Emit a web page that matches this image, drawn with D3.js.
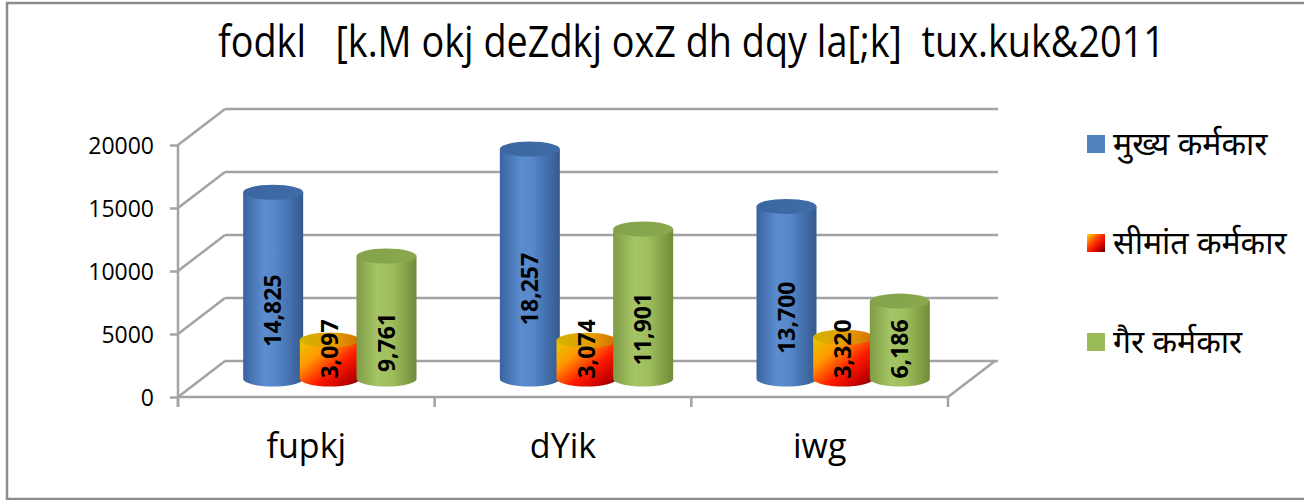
<!DOCTYPE html>
<html>
<head>
<meta charset="utf-8">
<script src="https://cdn.jsdelivr.net/npm/d3@7"></script>
<style>
  body { margin: 0; background: #fff; }
  svg { display: block; }
</style>
</head>
<body>
<div id="chart"></div>
<script>
var width = 1304;
var height = 500;

// data
var title = "fodkl   [k.M okj deZdkj oxZ dh dqy la[;k]  tux.kuk&2011";
var categories = ["fupkj", "dYik", "iwg"];
var seriesNames = ["मुख्य कर्मकार", "सीमांत कर्मकार", "गैर कर्मकार"];
var mukhya = [14825, 18257, 13700];
var seemant = [3097, 3074, 3320];
var gair = [9761, 11901, 6186];
var yTicks = [0, 5000, 10000, 15000, 20000];

// 3d frame
var front = { left: 178, right: 948, bottom: 397, top: 145 };
var depthX = 47, depthY = -36;
var gridColor = "#a3a3a3";

var svg = d3.select("#chart")
  .append("svg")
  .attr("width", width)
  .attr("height", height);

var defs = svg.append("defs");

// body gradients
function hGrad(id, stops) {
  var g = defs.append("linearGradient").attr("id", id)
    .attr("x1", 0).attr("y1", 0).attr("x2", 1).attr("y2", 0);
  stops.forEach(function (s) {
    g.append("stop").attr("offset", s[0]).attr("stop-color", s[1]);
  });
}
hGrad("blueBody", [[0, "#3a64a0"], [0.35, "#5b8dd0"], [0.55, "#5587c9"], [1, "#34598f"]]);
hGrad("blueTop", [[0, "#3b66a0"], [1, "#3f6ca8"]]);
hGrad("greenBody", [[0, "#7e9c45"], [0.35, "#a6c566"], [0.6, "#9ebd5c"], [1, "#718c39"]]);
hGrad("greenTop", [[0, "#84a24a"], [1, "#8aa94e"]]);
hGrad("orangeTop", [[0, "#d2b400"], [0.6, "#e69a00"], [1, "#d27000"]]);

var og = defs.append("linearGradient").attr("id", "orangeBody")
  .attr("x1", 0).attr("y1", 0).attr("x2", 1).attr("y2", 1);
[[0, "#e8c800"], [0.3, "#ff9a00"], [0.6, "#ff1a00"], [0.85, "#c00000"], [1, "#6e0000"]].forEach(function (s) {
  og.append("stop").attr("offset", s[0]).attr("stop-color", s[1]);
});

// outer border
svg.append("path")
  .attr("d", "M1304,3 L7,3 L7,499 L1304,499")
  .attr("fill", "none")
  .attr("stroke", "#8c8c8c")
  .attr("stroke-width", 2.5);

// title, squeezed horizontally to the reference width
var titleText = svg.append("text")
  .attr("x", 0)
  .attr("y", 0)
  .style("white-space", "pre")
  .style("font-family", "'Open Sans', sans-serif")
  .style("font-size", "44px")
  .style("fill", "#000")
  .text(title);
var titleLen = titleText.node().getComputedTextLength();
titleText.attr("transform", "translate(218,57) scale(" + (947 / titleLen) + ",1)");

// scales
var y = d3.scaleLinear().domain([0, 20000]).range([front.bottom, front.top]);
var x = d3.scaleBand().domain(categories).range([front.left, front.right]);
var xInner = d3.scaleBand().domain(seriesNames).range([-85, 85]).padding(0);

var grid = svg.append("g");

// back wall + side wall gridlines
yTicks.forEach(function (t) {
  var yy = y(t);
  grid.append("line")
    .attr("x1", front.left + depthX).attr("y1", yy + depthY)
    .attr("x2", front.right + depthX + 3).attr("y2", yy + depthY)
    .attr("stroke", gridColor).attr("stroke-width", 2.5);
  grid.append("line")
    .attr("x1", front.left).attr("y1", yy)
    .attr("x2", front.left + depthX).attr("y2", yy + depthY)
    .attr("stroke", gridColor).attr("stroke-width", 2.5);
});

// floor front + right edge
grid.append("line")
  .attr("x1", front.left).attr("y1", front.bottom)
  .attr("x2", front.right).attr("y2", front.bottom)
  .attr("stroke", gridColor).attr("stroke-width", 2.5);
grid.append("line")
  .attr("x1", front.right).attr("y1", front.bottom)
  .attr("x2", front.right + depthX).attr("y2", front.bottom + depthY)
  .attr("stroke", gridColor).attr("stroke-width", 2.5);

// y axis
var axisY = d3.axisLeft(y).tickValues(yTicks).tickSize(8).tickPadding(16).tickFormat(d3.format("d"));
var gy = svg.append("g")
  .attr("transform", "translate(" + front.left + ",0)")
  .call(axisY);
gy.select(".domain").remove();
gy.append("line")
  .attr("x1", 0).attr("x2", 0)
  .attr("y1", front.top).attr("y2", front.bottom + 10)
  .attr("stroke", gridColor).attr("stroke-width", 2.5);
gy.selectAll(".tick line").attr("stroke", gridColor).attr("stroke-width", 2.5);
gy.selectAll(".tick text")
  .style("font-family", "'Open Sans', sans-serif")
  .style("font-size", "23px")
  .attr("fill", "#000")
  .attr("dy", "0.36em");

// x axis
var ticksX = categories.map(function (c) { return x(c); }).concat([front.right]);
svg.append("g").selectAll("line")
  .data(ticksX)
  .enter()
  .append("line")
  .attr("x1", function (d) { return d; }).attr("x2", function (d) { return d; })
  .attr("y1", front.bottom).attr("y2", front.bottom + 10)
  .attr("stroke", gridColor).attr("stroke-width", 2.5);

svg.append("g").selectAll("text")
  .data(categories)
  .enter()
  .append("text")
  .attr("x", function (d) { return x(d) + x.bandwidth() / 2; })
  .attr("y", 458)
  .attr("text-anchor", "middle")
  .style("font-family", "'Open Sans', sans-serif")
  .style("font-size", "34px")
  .style("fill", "#000")
  .text(function (d) { return d; });

// cylinders
var series = [
  { name: seriesNames[0], values: mukhya, body: "url(#blueBody)", top: "url(#blueTop)" },
  { name: seriesNames[1], values: seemant, body: "url(#orangeBody)", top: "url(#orangeTop)" },
  { name: seriesNames[2], values: gair, body: "url(#greenBody)", top: "url(#greenTop)" }
];

var rx = 30, ry = 7.5;
var baseY = front.bottom + depthY / 2;
var bars = [];
series.forEach(function (s) {
  s.values.forEach(function (v, i) {
    var cx = x(categories[i]) + x.bandwidth() / 2 + depthX / 2 + xInner(s.name) + xInner.bandwidth() / 2;
    var h = front.bottom - y(v);
    bars.push({ s: s, v: v, cx: cx, h: h, i: i });
  });
});

var barG = svg.append("g");
// draw group by group, series order inside group
bars.sort(function (a, b) { return a.i - b.i || series.indexOf(a.s) - series.indexOf(b.s); });
bars.forEach(function (d) {
  var topY = baseY - d.h;
  barG.append("path")
    .attr("d", "M" + (d.cx - rx) + "," + topY +
      " L" + (d.cx - rx) + "," + baseY +
      " A" + rx + "," + ry + " 0 0 0 " + (d.cx + rx) + "," + baseY +
      " L" + (d.cx + rx) + "," + topY + " Z")
    .attr("fill", d.s.body);
  barG.append("ellipse")
    .attr("cx", d.cx).attr("cy", topY)
    .attr("rx", rx).attr("ry", ry)
    .attr("fill", d.s.top);
});

// data labels
var fmt = d3.format(",");
barG.selectAll("text.lbl")
  .data(bars)
  .enter()
  .append("text")
  .attr("class", "lbl")
  .attr("transform", function (d) {
    var mid = baseY - d.h / 2;
    var cy = Math.min(mid + 25, baseY - 30);
    return "translate(" + (d.cx + 8) + "," + cy + ") rotate(-90)";
  })
  .attr("text-anchor", "middle")
  .style("font-family", "'Open Sans', sans-serif")
  .style("font-weight", "bold")
  .style("font-size", "23px")
  .style("fill", "#000")
  .text(function (d) { return fmt(d.v); });

// legend
var lg = defs.append("linearGradient").attr("id", "orangeLegend")
  .attr("x1", 0).attr("y1", 0).attr("x2", 1).attr("y2", 1);
[[0, "#ffe000"], [0.4, "#ff4000"], [0.7, "#e00000"], [1, "#5a0000"]].forEach(function (s) {
  lg.append("stop").attr("offset", s[0]).attr("stop-color", s[1]);
});
var legendFill = ["#4f81bd", "url(#orangeLegend)", "#9bbb59"];
var legend = svg.append("g")
  .selectAll("g")
  .data(seriesNames)
  .enter()
  .append("g")
  .attr("transform", function (d, i) { return "translate(1087," + (144 + i * 99) + ")"; });
legend.append("rect")
  .attr("x", 0).attr("y", -9)
  .attr("width", 18).attr("height", 18)
  .attr("fill", function (d, i) { return legendFill[i]; });
legend.append("text")
  .attr("x", 26)
  .attr("y", 0)
  .attr("dy", "0.35em")
  .style("font-family", "'Noto Sans', sans-serif")
  .style("font-size", "32px")
  .style("fill", "#000")
  .text(function (d) { return d; });
</script>
</body>
</html>
